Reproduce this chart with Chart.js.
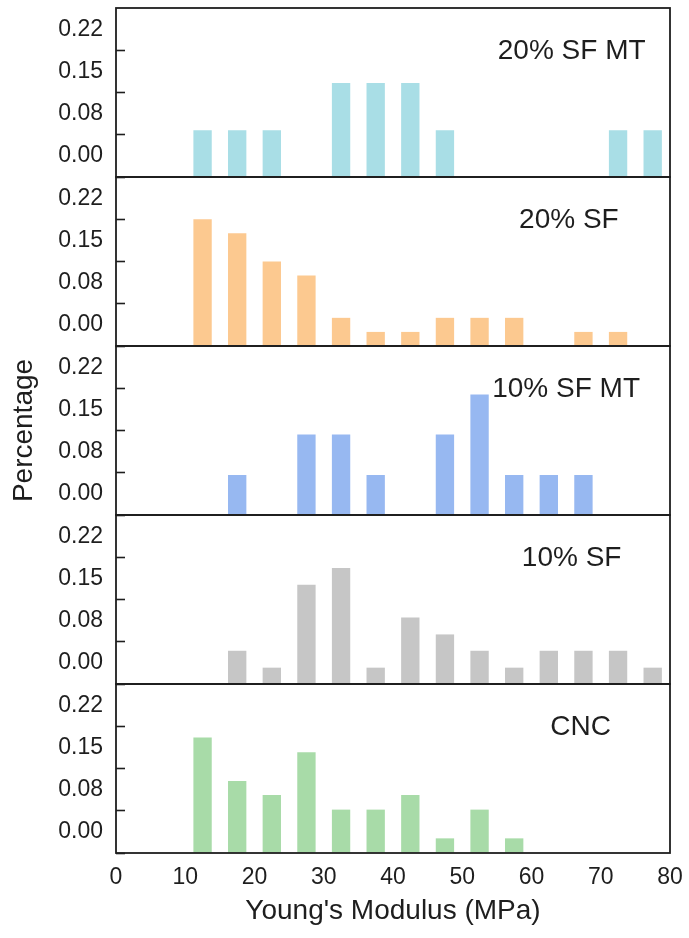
<!DOCTYPE html>
<html>
<head>
<meta charset="utf-8">
<title>Young's Modulus distributions</title>
<script src="https://cdn.jsdelivr.net/npm/chart.js@4.4.1/dist/chart.umd.min.js"></script>
<style>
  html, body { margin: 0; padding: 0; background: #ffffff; }
  canvas { display: block; }
</style>
</head>
<body>
<canvas id="chart" width="689" height="938"></canvas>
<script>
// Histogram bins: centre of each 5 MPa class (10-15, 15-20, ... 75-80)
const binCenters = [12.5, 17.5, 22.5, 27.5, 32.5, 37.5, 42.5, 47.5, 52.5, 57.5, 62.5, 67.5, 72.5, 77.5];

// Fraction of samples in each bin, one array per sample group
const sf20mt = [0.083, 0.083, 0.083, 0,     0.167, 0.167, 0.167, 0.083, 0,     0,     0,     0,     0.083, 0.083];
const sf20   = [0.225, 0.200, 0.150, 0.125, 0.050, 0.025, 0.025, 0.050, 0.050, 0.050, 0,     0.025, 0.025, 0];
const sf10mt = [0,     0.071, 0,     0.143, 0.143, 0.071, 0,     0.143, 0.214, 0.071, 0.071, 0.071, 0,     0];
const sf10   = [0,     0.059, 0.029, 0.176, 0.206, 0.029, 0.118, 0.088, 0.059, 0.029, 0.059, 0.059, 0.059, 0.029];
const cnc    = [0.205, 0.128, 0.103, 0.179, 0.077, 0.077, 0.103, 0.026, 0.077, 0.026, 0,     0,     0,     0];

const groupNames = ['20% SF MT', '20% SF', '10% SF MT', '10% SF', 'CNC'];
const groupSeries = [sf20mt, sf20, sf10mt, sf10, cnc];
const groupColors = ['#a9dee6', '#fcc990', '#97b8f1', '#c6c6c6', '#a8dba8'];

// Axis ticks
const yTickValues = [0, 0.075, 0.15, 0.225];
const yTickLabels = ['0.00', '0.08', '0.15', '0.22'];
const xTickStep = 10;

const FONT = "'Liberation Sans', Arial, Helvetica, sans-serif";
const INK = '#1e1e1e';

// Panel scales, listed from the bottom panel upwards (left boxes stack in reverse)
const panelOrder = [4, 3, 2, 1, 0];

function panelScale(withTitle) {
  return {
    type: 'linear',
    position: 'left',
    stack: 'panels',
    stackWeight: 1,
    min: 0,
    max: 0.3,
    afterBuildTicks: (s) => { s.ticks = yTickValues.map(v => ({ value: v })); },
    afterFit: (s) => {
      s.width = 116;
      s.paddingTop = 0; s.paddingBottom = 0; s.paddingLeft = 0; s.paddingRight = 0;
    },
    ticks: {
      callback: (v, i) => yTickLabels[i],
      labelOffset: -21,
      padding: 22,
      color: INK,
      font: { family: FONT, size: 23 }
    },
    grid: {
      drawOnChartArea: false,
      tickLength: -9,
      tickWidth: 1.6,
      tickColor: INK
    },
    border: { display: false },
    title: {
      display: withTitle,
      text: 'Percentage',
      color: INK,
      font: { family: FONT, size: 28 },
      padding: { top: 7, bottom: 0 }
    }
  };
}

const scales = {
  x: {
    type: 'linear',
    min: 0,
    max: 80,
    offset: false,
    afterFit: (s) => { s.height = 85; s.paddingLeft = 0; s.paddingRight = 0; },
    ticks: {
      stepSize: xTickStep,
      padding: 11,
      color: INK,
      font: { family: FONT, size: 23 }
    },
    grid: { display: false, drawTicks: false },
    border: { display: false },
    title: {
      display: true,
      text: "Young's Modulus (MPa)",
      color: INK,
      font: { family: FONT, size: 28 },
      padding: { top: 4, bottom: 10 }
    }
  }
};
panelOrder.forEach(i => { scales['y' + i] = panelScale(i === 2); });

const datasets = groupSeries.map((vals, i) => ({
  label: groupNames[i],
  yAxisID: 'y' + i,
  data: binCenters.map((x, k) => ({ x: x, y: vals[k] })),
  backgroundColor: groupColors[i],
  borderWidth: 0,
  grouped: false,
  barPercentage: 0.53,
  categoryPercentage: 1
}));

// Frame around every panel, plus the group name inside it
const panelFrames = {
  id: 'panelFrames',
  afterDatasetsDraw(chart, args, opts) {
    const { ctx, chartArea, scales } = chart;
    const xs = scales.x;
    ctx.save();
    ctx.strokeStyle = INK;
    ctx.lineWidth = 1.8;
    groupNames.forEach((name, i) => {
      const ys = scales['y' + i];
      ctx.strokeRect(chartArea.left, ys.top, chartArea.right - chartArea.left, ys.bottom - ys.top);
      ctx.fillStyle = INK;
      ctx.font = '28px ' + FONT;
      ctx.textAlign = 'center';
      ctx.textBaseline = 'middle';
      ctx.fillText(name, xs.getPixelForValue(opts.nameX[i]), ys.getPixelForValue(opts.nameY));
    });
    ctx.restore();
  }
};

new Chart(document.getElementById('chart'), {
  type: 'bar',
  data: { datasets },
  options: {
    responsive: false,
    animation: false,
    devicePixelRatio: 1,
    layout: { padding: { top: 8, right: 19, bottom: 0, left: 0 } },
    plugins: {
      legend: { display: false },
      tooltip: { enabled: false },
      panelFrames: { nameX: [65.8, 65.4, 65.0, 65.8, 67.1], nameY: 0.224 }
    },
    scales
  },
  plugins: [panelFrames]
});
</script>
</body>
</html>
